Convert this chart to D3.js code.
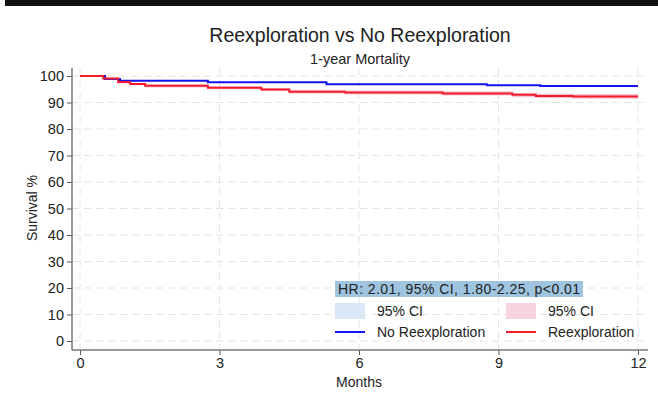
<!DOCTYPE html>
<html>
<head>
<meta charset="utf-8">
<script src="https://cdn.jsdelivr.net/npm/d3@7"></script>
<style>
  body { margin: 0; background: #fff; }
  text { font-family: "Liberation Sans", Arial, Helvetica, sans-serif; fill: #222; }
</style>
</head>
<body>
<div id="chart"></div>
<script>
// survival data (months, % surviving)
var blueTimes = [0, 0.54, 0.86, 2.75, 5.3, 8.75, 9.9, 12];
var blueSurv  = [100, 98.9, 98.2, 97.6, 96.9, 96.5, 96.2, 96.2];
var blueLo    = [100, 98.7, 98.0, 97.4, 96.6, 96.2, 95.9, 95.9];
var blueHi    = [100, 99.1, 98.4, 97.8, 97.2, 96.8, 96.5, 96.5];

var redTimes = [0, 0.5, 0.82, 1.08, 1.4, 2.75, 3.9, 4.5, 5.7, 7.8, 9.3, 9.8, 10.6, 12];
var redSurv  = [100, 99.1, 97.7, 97.0, 96.3, 95.6, 94.9, 94.1, 93.8, 93.4, 92.9, 92.5, 92.3, 92.3];
var redLo    = [100, 98.8, 97.2, 96.5, 95.7, 95.0, 94.2, 93.4, 93.0, 92.6, 92.0, 91.6, 91.4, 91.4];
var redHi    = [100, 99.4, 98.2, 97.5, 96.9, 96.2, 95.5, 94.8, 94.5, 94.2, 93.7, 93.4, 93.2, 93.2];

var xTicks = [0, 3, 6, 9, 12];
var yTicks = [0, 10, 20, 30, 40, 50, 60, 70, 80, 90, 100];

var W = 658, H = 398;
var svg = d3.select("#chart").append("svg").attr("width", W).attr("height", H);

// black rule at top
svg.append("rect").attr("x", 5).attr("y", 0).attr("width", W - 5).attr("height", 6).attr("fill", "#111");

var x = d3.scaleLinear().domain([0, 12]).range([80, 638]);
var y = d3.scaleLinear().domain([0, 100]).range([341, 76]);
var axL = 72, axB = 350, axR = 648, axT = 68;

// grid
svg.append("g").selectAll("line").data(yTicks).enter().append("line")
  .attr("x1", axL).attr("x2", axR)
  .attr("y1", function(d) { return y(d); }).attr("y2", function(d) { return y(d); })
  .attr("stroke", "#e4e4e4").attr("stroke-width", 1).attr("stroke-dasharray", "7,5");
svg.append("g").selectAll("line").data(xTicks).enter().append("line")
  .attr("x1", function(d) { return x(d); }).attr("x2", function(d) { return x(d); })
  .attr("y1", axT).attr("y2", axB)
  .attr("stroke", "#e4e4e4").attr("stroke-width", 1).attr("stroke-dasharray", "7,5");

// CI bands
function band(times, lo, hi) {
  return times.map(function(t, i) { return { t: t, lo: lo[i], hi: hi[i] }; });
}
var area = d3.area().curve(d3.curveStepAfter)
  .x(function(d) { return x(d.t); })
  .y0(function(d) { return y(d.lo); })
  .y1(function(d) { return y(d.hi); });
svg.append("path").datum(band(blueTimes, blueLo, blueHi)).attr("d", area).attr("fill", "#c9dcf5").attr("opacity", 0.8);
svg.append("path").datum(band(redTimes, redLo, redHi)).attr("d", area).attr("fill", "#f5b8c8").attr("opacity", 0.8);

// KM lines (red drawn last, it sits on top at the start)
var line = d3.line().curve(d3.curveStepAfter)
  .x(function(d) { return x(d[0]); })
  .y(function(d) { return y(d[1]); });
svg.append("path").datum(blueTimes.map(function(t, i) { return [t, blueSurv[i]]; }))
  .attr("d", line).attr("fill", "none").attr("stroke", "#1414f0").attr("stroke-width", 2);
svg.append("path").datum(redTimes.map(function(t, i) { return [t, redSurv[i]]; }))
  .attr("d", line).attr("fill", "none").attr("stroke", "#f01c2c").attr("stroke-width", 2);

// axes
var yAxis = d3.axisLeft(y).tickValues(yTicks).tickSize(5).tickPadding(3);
var gy = svg.append("g").attr("transform", "translate(" + axL + ",0)").call(yAxis);
gy.select(".domain").remove();
gy.append("line").attr("x1", 0).attr("x2", 0).attr("y1", axT).attr("y2", axB).attr("stroke", "#777").attr("stroke-width", 1.5);

var xAxis = d3.axisBottom(x).tickValues(xTicks).tickSize(5).tickPadding(3);
var gx = svg.append("g").attr("transform", "translate(0," + axB + ")").call(xAxis);
gx.select(".domain").remove();
gx.append("line").attr("x1", axL).attr("x2", axR).attr("y1", 0).attr("y2", 0).attr("stroke", "#777").attr("stroke-width", 1.5);

svg.selectAll(".tick line").attr("stroke", "#555");
svg.selectAll(".tick text").style("font-size", "14.5px").attr("fill", "#1a1a1a")
  .style("font-family", "'Liberation Sans', Arial, sans-serif");

// titles
svg.append("text").attr("x", 360).attr("y", 42).attr("text-anchor", "middle").style("font-size", "19.5px").text("Reexploration vs No Reexploration");
svg.append("text").attr("x", 360).attr("y", 64).attr("text-anchor", "middle").style("font-size", "14.5px").text("1-year Mortality");
svg.append("text").attr("x", 359).attr("y", 387).attr("text-anchor", "middle").style("font-size", "14px").text("Months");
svg.append("text").attr("transform", "translate(37,208) rotate(-90)").attr("text-anchor", "middle").style("font-size", "14px").text("Survival %");

// legend
svg.append("rect").attr("x", 335).attr("y", 281).attr("width", 248).attr("height", 16).attr("fill", "#9fc4df");
svg.append("text").attr("x", 338).attr("y", 294).style("font-size", "14px")
  .attr("textLength", 242).attr("lengthAdjust", "spacing")
  .text("HR: 2.01, 95% CI, 1.80-2.25, p<0.01");

var legend = [
  { x: 335, fill: "#dbe8f8", stroke: "#1414f0", label: "No Reexploration" },
  { x: 506, fill: "#f7d3dd", stroke: "#f01c2c", label: "Reexploration" }
];
var lg = svg.append("g").selectAll("g").data(legend).enter().append("g");
lg.append("rect").attr("x", function(d) { return d.x; }).attr("y", 303).attr("width", 30).attr("height", 16).attr("fill", function(d) { return d.fill; });
lg.append("text").attr("x", function(d) { return d.x + 42; }).attr("y", 316).style("font-size", "14px").text("95% CI");
lg.append("line").attr("x1", function(d) { return d.x; }).attr("x2", function(d) { return d.x + 30; })
  .attr("y1", 332).attr("y2", 332).attr("stroke", function(d) { return d.stroke; }).attr("stroke-width", 2);
lg.append("text").attr("x", function(d) { return d.x + 42; }).attr("y", 337).style("font-size", "14px").text(function(d) { return d.label; });
</script>
</body>
</html>
